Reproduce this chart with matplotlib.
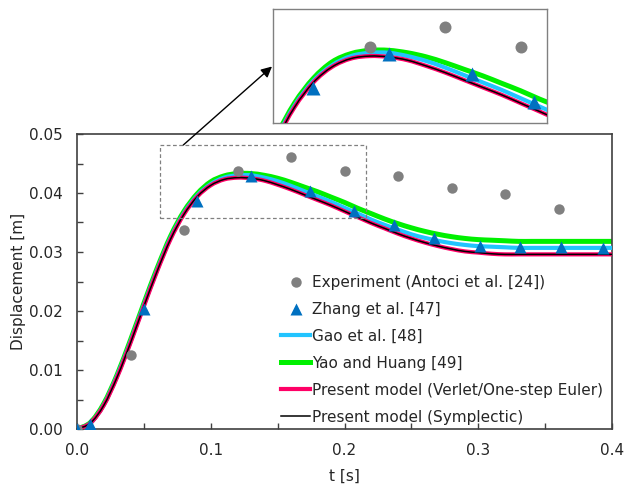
import matplotlib
matplotlib.use("Agg")
import matplotlib.pyplot as plt
from matplotlib.patches import Rectangle, PathPatch, FancyArrowPatch
from matplotlib.path import Path
from matplotlib.lines import Line2D

plt.rcParams['font.family'] = ['DejaVu Sans']

# Time grid of the simulated curves [s]
t_curve = [0.00, 0.01, 0.02, 0.03, 0.04, 0.05, 0.06, 0.07, 0.08, 0.09,
           0.10, 0.11, 0.12, 0.13, 0.14, 0.15, 0.16, 0.17, 0.18, 0.19,
           0.20, 0.21, 0.22, 0.23, 0.24, 0.25, 0.26, 0.27, 0.28, 0.29,
           0.30, 0.31, 0.32, 0.33, 0.34, 0.35, 0.36, 0.37, 0.38, 0.39, 0.40]

gao = [0.0000, 0.0010, 0.0041, 0.0090, 0.0148, 0.0210, 0.0270, 0.0324, 0.0366, 0.0396,
       0.0415, 0.0426, 0.0430, 0.0430, 0.0426, 0.0420, 0.0412, 0.0403, 0.0394, 0.0385,
       0.0375, 0.0365, 0.0355, 0.0346, 0.0338, 0.0330, 0.0324, 0.0319, 0.0315, 0.0312,
       0.0310, 0.0309, 0.0308, 0.0307, 0.0307, 0.0307, 0.0307, 0.0307, 0.0307, 0.0307, 0.0307]

yao = [0.0000, 0.0011, 0.0043, 0.0092, 0.0151, 0.0213, 0.0273, 0.0327, 0.0369, 0.0399,
       0.0419, 0.0429, 0.0433, 0.0433, 0.0430, 0.0425, 0.0418, 0.0410, 0.0402, 0.0393,
       0.0384, 0.0374, 0.0365, 0.0356, 0.0348, 0.0341, 0.0335, 0.0330, 0.0326, 0.0323,
       0.0321, 0.0320, 0.0319, 0.0318, 0.0318, 0.0318, 0.0318, 0.0318, 0.0318, 0.0318, 0.0318]

verlet = [0.0000, 0.0010, 0.0040, 0.0088, 0.0146, 0.0208, 0.0268, 0.0322, 0.0364, 0.0394,
          0.0413, 0.0423, 0.0426, 0.0425, 0.0421, 0.0414, 0.0406, 0.0397, 0.0388, 0.0379,
          0.0369, 0.0359, 0.0349, 0.0340, 0.0331, 0.0323, 0.0316, 0.0310, 0.0305, 0.0301,
          0.0299, 0.0297, 0.0296, 0.0296, 0.0296, 0.0296, 0.0296, 0.0296, 0.0296, 0.0296, 0.0296]

symplectic = [0.0000, 0.0010, 0.0040, 0.0088, 0.0146, 0.0208, 0.0268, 0.0322, 0.0364, 0.0394,
              0.0413, 0.0423, 0.0426, 0.0425, 0.0421, 0.0414, 0.0406, 0.0397, 0.0388, 0.0379,
              0.0369, 0.0359, 0.0349, 0.0340, 0.0331, 0.0323, 0.0316, 0.0310, 0.0305, 0.0301,
              0.0299, 0.0297, 0.0296, 0.0296, 0.0296, 0.0296, 0.0296, 0.0296, 0.0296, 0.0296, 0.0296]

# Experiment (Antoci et al.)
t_exp = [0.00, 0.04, 0.08, 0.12, 0.16, 0.20, 0.24, 0.28, 0.32, 0.36]
d_exp = [0.0000, 0.0125, 0.0337, 0.0437, 0.0461, 0.0437, 0.0429, 0.0408, 0.0398, 0.0373]

# Zhang et al.
t_zhang = [0.000, 0.010, 0.050, 0.090, 0.130, 0.174, 0.207, 0.237, 0.267, 0.301, 0.331, 0.362, 0.393]
d_zhang = [0.0000, 0.0008, 0.0204, 0.0387, 0.0428, 0.0404, 0.0370, 0.0345, 0.0324, 0.0311, 0.0309, 0.0308, 0.0307]

labels = ["Experiment (Antoci et al. [24])", "Zhang et al. [47]", "Gao et al. [48]",
          "Yao and Huang [49]", "Present model (Verlet/One-step Euler)",
          "Present model (Symplectic)"]

C_EXP = "#808080"
C_ZHANG = "#0070C0"
C_GAO = "#22C4FF"
C_YAO = "#00F000"
C_VERLET = "#FF0066"
C_SYMP = "#000000"
AX_COLOR = "#404040"
TXT = "#262626"

W, H = 624, 486
fig = plt.figure(figsize=(W / 100, H / 100), dpi=100)


def smooth_path(xs, ys):
    """Smoothed (Catmull-Rom style) Bezier path through the given points."""
    n = len(xs)
    verts = [(xs[0], ys[0])]
    codes = [Path.MOVETO]
    for i in range(n - 1):
        i0 = max(i - 1, 0)
        i3 = min(i + 2, n - 1)
        c1 = (xs[i] + (xs[i + 1] - xs[i0]) / 6.0, ys[i] + (ys[i + 1] - ys[i0]) / 6.0)
        c2 = (xs[i + 1] - (xs[i3] - xs[i]) / 6.0, ys[i + 1] - (ys[i3] - ys[i]) / 6.0)
        verts += [c1, c2, (xs[i + 1], ys[i + 1])]
        codes += [Path.CURVE4, Path.CURVE4, Path.CURVE4]
    return Path(verts, codes)


def curve(ax, ys, color, lw, z):
    ax.add_patch(PathPatch(smooth_path(t_curve, ys), fill=False, ec=color, lw=lw,
                           zorder=z, capstyle='butt', joinstyle='round'))
    return Line2D([], [], color=color, lw=lw)


def draw(ax, ms_scale=1.0):
    h_yao = curve(ax, yao, C_YAO, 3.6, 2)
    h_gao = curve(ax, gao, C_GAO, 3.0, 3)
    h_ver = curve(ax, verlet, C_VERLET, 3.0, 4)
    h_sym = curve(ax, symplectic, C_SYMP, 1.1, 5)
    e = ax.plot(t_exp, d_exp, 'o', color=C_EXP, ms=7.5 * ms_scale, mec='none', zorder=6)[0]
    z = ax.plot(t_zhang, d_zhang, '^', color=C_ZHANG, ms=8.5 * ms_scale, mec='none', zorder=7)[0]
    return e, z, h_gao, h_yao, h_ver, h_sym


ax = fig.add_axes([77 / W, 1 - 429 / H, (612 - 77) / W, (429 - 134) / H])
handles = draw(ax)
ax.set_xlim(0, 0.4)
ax.set_ylim(0, 0.05)
ax.set_xticks([0.0, 0.1, 0.2, 0.3, 0.4])
ax.set_xticks([0.05, 0.15, 0.25, 0.35], minor=True)
ax.set_yticks([0.00, 0.01, 0.02, 0.03, 0.04, 0.05])
ax.set_yticks([0.005, 0.015, 0.025, 0.035, 0.045], minor=True)
ax.set_xticklabels(["0.0", "0.1", "0.2", "0.3", "0.4"])
ax.set_yticklabels(["0.00", "0.01", "0.02", "0.03", "0.04", "0.05"])
ax.tick_params(which='both', direction='in', length=4, width=1.0, color=AX_COLOR,
               labelsize=11, labelcolor=TXT)
ax.tick_params(axis='x', pad=10)
ax.tick_params(axis='y', pad=10)
for s in ax.spines.values():
    s.set_color(AX_COLOR)
    s.set_linewidth(1.2)
ax.set_xlabel("t [s]", fontsize=11, color=TXT, labelpad=8)
ax.set_ylabel("Displacement [m]", fontsize=11, color=TXT, labelpad=2)

# zoom window marker
ax.add_patch(Rectangle((0.062, 0.0357), 0.216 - 0.062, 0.0481 - 0.0357, fill=False,
                       ls=(0, (3, 2)), lw=0.9, ec="#808080", zorder=8))

leg = ax.legend(handles, labels, frameon=False,
                loc='upper left', bbox_to_anchor=(281 / W, 1 - 275 / H),
                bbox_transform=fig.transFigure, fontsize=11, borderpad=0,
                borderaxespad=0, handlelength=1.9, handletextpad=0.15,
                labelspacing=0.78)
for txt in leg.get_texts():
    txt.set_color(TXT)

# magnified inset
ax2 = fig.add_axes([273 / W, 1 - 123 / H, (547 - 273) / W, (123 - 9) / H])
draw(ax2, ms_scale=1.15)
ax2.set_xlim(0.0686, 0.2140)
ax2.set_ylim(0.0345, 0.0483)
ax2.set_xticks([])
ax2.set_yticks([])
for s in ax2.spines.values():
    s.set_color("#808080")
    s.set_linewidth(1.0)

fig.add_artist(FancyArrowPatch(
    (183.3 / W, 1 - 145 / H), (272 / W, 1 - 66.5 / H), transform=fig.transFigure,
    arrowstyle='-|>', mutation_scale=16, lw=1.0, color="black", shrinkA=0, shrinkB=0))

fig.savefig("out.png", dpi=100)
